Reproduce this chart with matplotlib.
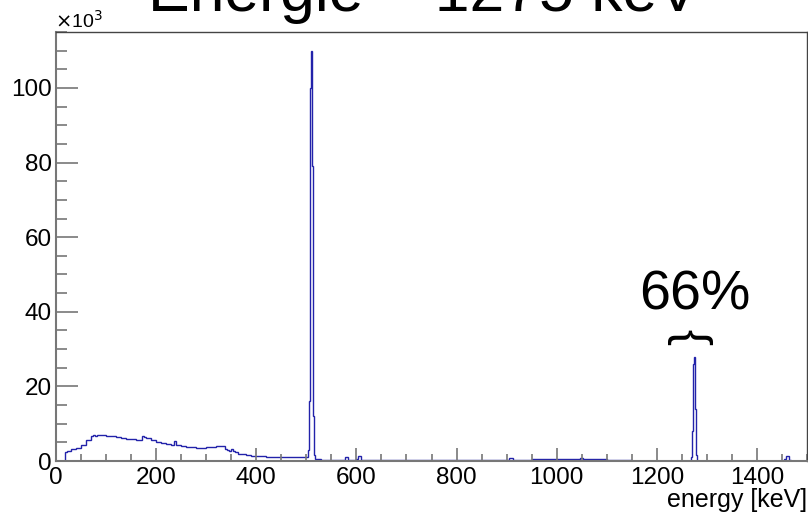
import matplotlib
matplotlib.use("Agg")
import matplotlib.pyplot as plt
from matplotlib.ticker import MultipleLocator, FuncFormatter

plt.rcParams['font.family'] = ['Liberation Sans', 'DejaVu Sans']

# bin edges [keV] and counts per bin of the gamma spectrum
edges = [18, 22, 30, 40, 50, 60, 70, 74, 78, 82, 90, 100, 110, 120, 130, 140, 150,
         160, 168, 172, 176, 180, 190, 200, 210, 220, 230, 236, 240, 244, 250, 260,
         270, 280, 290, 300, 310, 320, 330, 338, 342, 346, 350, 354, 358, 364, 372,
         380, 390, 400, 420, 440, 460, 480, 500, 504, 506, 508, 510, 512, 514, 516,
         518, 530, 560, 578, 584, 600, 604, 610, 620, 650, 700, 750, 800, 850, 900,
         905, 912, 950, 1000, 1040, 1046, 1052, 1080, 1100, 1150, 1200, 1268, 1270,
         1272, 1274, 1276, 1278, 1280, 1300, 1350, 1400, 1455, 1458, 1464, 1468]
counts = [2400, 2800, 3100, 3400, 4300, 5600, 6600, 7100, 6600, 6900, 6900, 6800,
          6700, 6500, 6200, 6000, 5800, 5500, 5600, 6800, 6500, 6100, 5600, 5200,
          4900, 4600, 4400, 5300, 4400, 4200, 4000, 3800, 3700, 3600, 3600, 3700,
          3800, 3900, 3900, 3300, 2900, 2700, 3100, 2600, 2300, 2000, 1800, 1600,
          1400, 1250, 1150, 1100, 1050, 1000, 1100, 3000, 16000, 100000, 110000,
          79000, 12000, 1500, 450, 400, 350, 1000, 350, 500, 1300, 400, 350, 300,
          300, 300, 300, 300, 400, 800, 350, 550, 600, 600, 900, 550, 500, 350, 120,
          120, 1000, 8000, 26000, 28000, 14000, 1500, 100, 120, 100, 100, 600, 1400,
          300]

title = "Energie = 1275 keV"
xlabel = "energy [keV]"
peak_label = "66%"
peak_energy = 1275

fig = plt.figure(figsize=(8.08, 5.17), dpi=100)
ax = fig.add_axes([56 / 808, 1 - 461 / 517, 751 / 808, 429 / 517])

ax.stairs(counts, edges, baseline=0, color='#2222aa', lw=1.0)

ax.set_xlim(0, 1500)
ax.set_ylim(0, 115000)

ax.xaxis.set_major_locator(MultipleLocator(200))
ax.xaxis.set_minor_locator(MultipleLocator(50))
ax.yaxis.set_major_locator(MultipleLocator(20000))
ax.yaxis.set_minor_locator(MultipleLocator(5000))
ax.yaxis.set_major_formatter(FuncFormatter(lambda v, p: f"{v / 1000:g}"))

grey = '#777777'
ax.tick_params(axis='x', which='major', direction='in', length=9.4, width=1.2,
               color=grey, labelsize=17.5, pad=4)
ax.tick_params(axis='x', which='minor', direction='in', length=5.4, width=1.2, color=grey)
ax.tick_params(axis='y', which='major', direction='in', length=15.8, width=1.2,
               color=grey, labelsize=17.5, pad=3)
ax.tick_params(axis='y', which='minor', direction='in', length=8, width=1.2, color=grey)

for side in ['top', 'right']:
    ax.spines[side].set_color('#444444')
    ax.spines[side].set_linewidth(1.0)
for side in ['left', 'bottom']:
    ax.spines[side].set_color(grey)
    ax.spines[side].set_linewidth(1.5)

# annotation over the 1275 keV line
ax.text(peak_energy, 40600, peak_label, ha='center', va='baseline', fontsize=40)
ax.text(peak_energy - 8, 33400, '}', rotation=90, ha='center', va='center', fontsize=35)

fig.text(424 / 808, 1 - 11 / 517, title, ha='center', va='baseline', fontsize=45)
fig.text(807 / 808, 1 - 507 / 517, xlabel, ha='right', va='baseline', fontsize=18)
fig.text(55 / 808, 1 - 28 / 517, r'$\times$10$^{3}$', ha='left', va='baseline', fontsize=14)

fig.savefig('out.png', dpi=100)
